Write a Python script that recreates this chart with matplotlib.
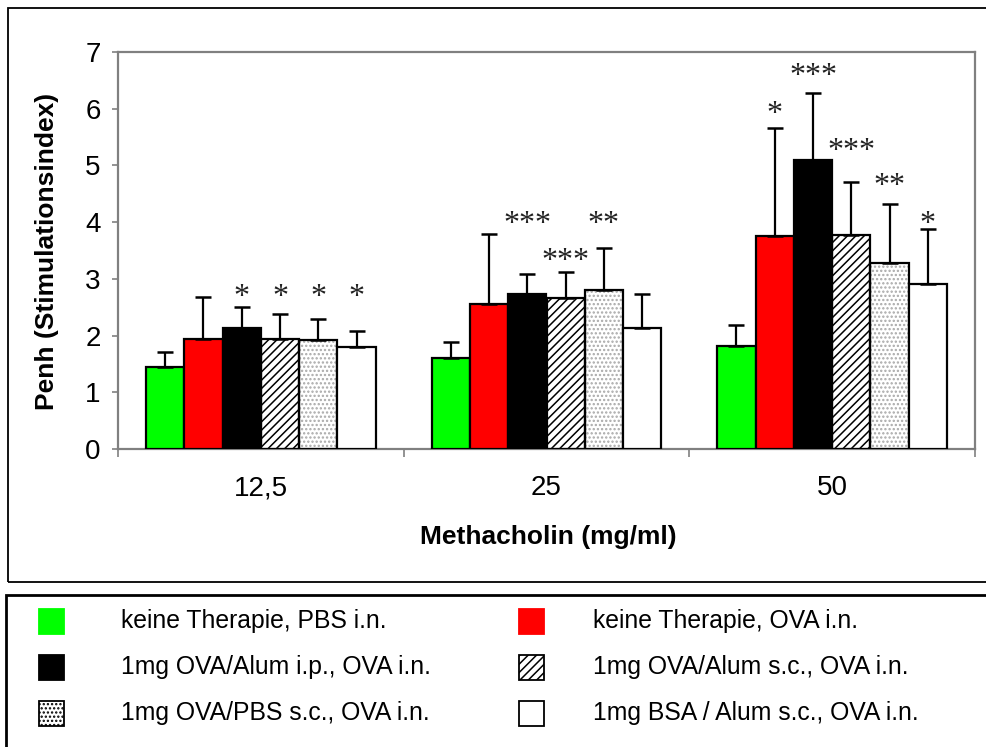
import numpy as np
import matplotlib.pyplot as plt
from matplotlib.patches import Rectangle

plt.rcParams['font.family'] = ['Liberation Sans', 'DejaVu Sans']
plt.rcParams['hatch.linewidth'] = 1.1

# data
doses = ['12,5', '25', '50']
groups = ['keine Therapie, PBS i.n.', 'keine Therapie, OVA i.n.',
          '1mg OVA/Alum i.p., OVA i.n.', '1mg OVA/Alum s.c., OVA i.n.',
          '1mg OVA/PBS s.c., OVA i.n.', '1mg BSA / Alum s.c., OVA i.n.']
means = [[1.45, 1.60, 1.82],
         [1.94, 2.56, 3.76],
         [2.13, 2.73, 5.10],
         [1.94, 2.66, 3.77],
         [1.93, 2.80, 3.28],
         [1.80, 2.13, 2.91]]
sems = [[0.26, 0.29, 0.37],
        [0.74, 1.23, 1.90],
        [0.37, 0.36, 1.18],
        [0.44, 0.46, 0.94],
        [0.36, 0.74, 1.04],
        [0.28, 0.60, 0.97]]
stars = [['', '', ''],
         ['', '', '*'],
         ['*', '***', '***'],
         ['*', '***', '***'],
         ['*', '**', '**'],
         ['*', '', '*']]
star_y = [[0, 0, 0],
          [0, 0, 5.90],
          [2.68, 3.96, 6.56],
          [2.68, 3.31, 5.25],
          [2.68, 3.96, 4.62],
          [2.68, 0, 3.96]]

faces = ['#00ff00', '#ff0000', '#000000', 'white', 'white', 'white']
hatches = [None, None, None, '////', '....', None]
hatch_cols = ['black', 'black', 'black', 'black', '#a8a8a8', 'black']

W, H = 986, 747
fig = plt.figure(figsize=(W / 100, H / 100), dpi=100)

def fx(px):
    return px / W

def fy(py):
    return 1 - py / H

ax = fig.add_axes([fx(118), fy(449), fx(975) - fx(118), fy(52) - fy(449)])

x = np.arange(len(doses))
bw = 0.134
for i in range(len(groups)):
    xs = x + (i - 2.5) * bw
    if hatches[i]:
        ax.bar(xs, means[i], bw, color=faces[i], hatch=hatches[i],
               edgecolor=hatch_cols[i], linewidth=0, zorder=2)
        ax.bar(xs, means[i], bw, fill=False, edgecolor='black', linewidth=1.6, zorder=3)
    else:
        ax.bar(xs, means[i], bw, color=faces[i], edgecolor='black', linewidth=1.6, zorder=3)
    ax.errorbar(xs, means[i], yerr=[np.zeros(3), sems[i]], fmt='none', ecolor='black',
                elinewidth=1.6, capsize=6, capthick=1.8, zorder=4)
    for j in range(len(doses)):
        if stars[i][j]:
            ax.text(xs[j], star_y[i][j], stars[i][j], ha='center', va='center',
                    fontsize=23, family='Liberation Serif', color='#222222')

ax.set_xlim(-0.5, 2.5)
ax.set_ylim(0, 7)
ax.set_yticks(range(8))
ax.set_xticks(x)
ax.set_xticklabels(doses)
ax.set_xticks([-0.5, 0.5, 1.5, 2.5], minor=True)
ax.tick_params(axis='x', which='major', length=0, pad=19, labelsize=20)
ax.tick_params(axis='x', which='minor', length=6, width=1.2, color='#808080', direction='out')
ax.tick_params(axis='y', length=4.5, width=1.2, color='#808080', pad=8, labelsize=20)
for s in ax.spines.values():
    s.set_color('#808080')
    s.set_linewidth(1.6)

fig.text(fx(548), fy(537), 'Methacholin (mg/ml)', ha='center', va='center',
         fontsize=19, fontweight='bold')
fig.text(fx(47), fy(251), 'Penh (Stimulationsindex)', ha='center', va='center',
         rotation=90, fontsize=19, fontweight='bold')

# chart frame and legend frame
fig.add_artist(Rectangle((fx(8), fy(582)), fx(1010) - fx(8), fy(8) - fy(582),
                         transform=fig.transFigure, fill=False, edgecolor='black', lw=1.3))
fig.add_artist(Rectangle((fx(6), fy(760)), fx(1010) - fx(6), fy(595) - fy(760),
                         transform=fig.transFigure, fill=False, edgecolor='black', lw=2))

# legend, two columns filled row by row
col_x = [39, 519]
text_x = [121, 593]
row_y = [621, 667, 713]
for k, name in enumerate(groups):
    c, r = k % 2, k // 2
    sq = 25
    fig.add_artist(Rectangle((fx(col_x[c]), fy(row_y[r] + sq / 2)), fx(sq), sq / H,
                             transform=fig.transFigure, facecolor=faces[k],
                             edgecolor='black' if k >= 2 else faces[k],
                             hatch=hatches[k], lw=1.3))
    fig.text(fx(text_x[c]), fy(row_y[r]), name, ha='left', va='center', fontsize=17.8)

fig.savefig('out.png', dpi=100)
